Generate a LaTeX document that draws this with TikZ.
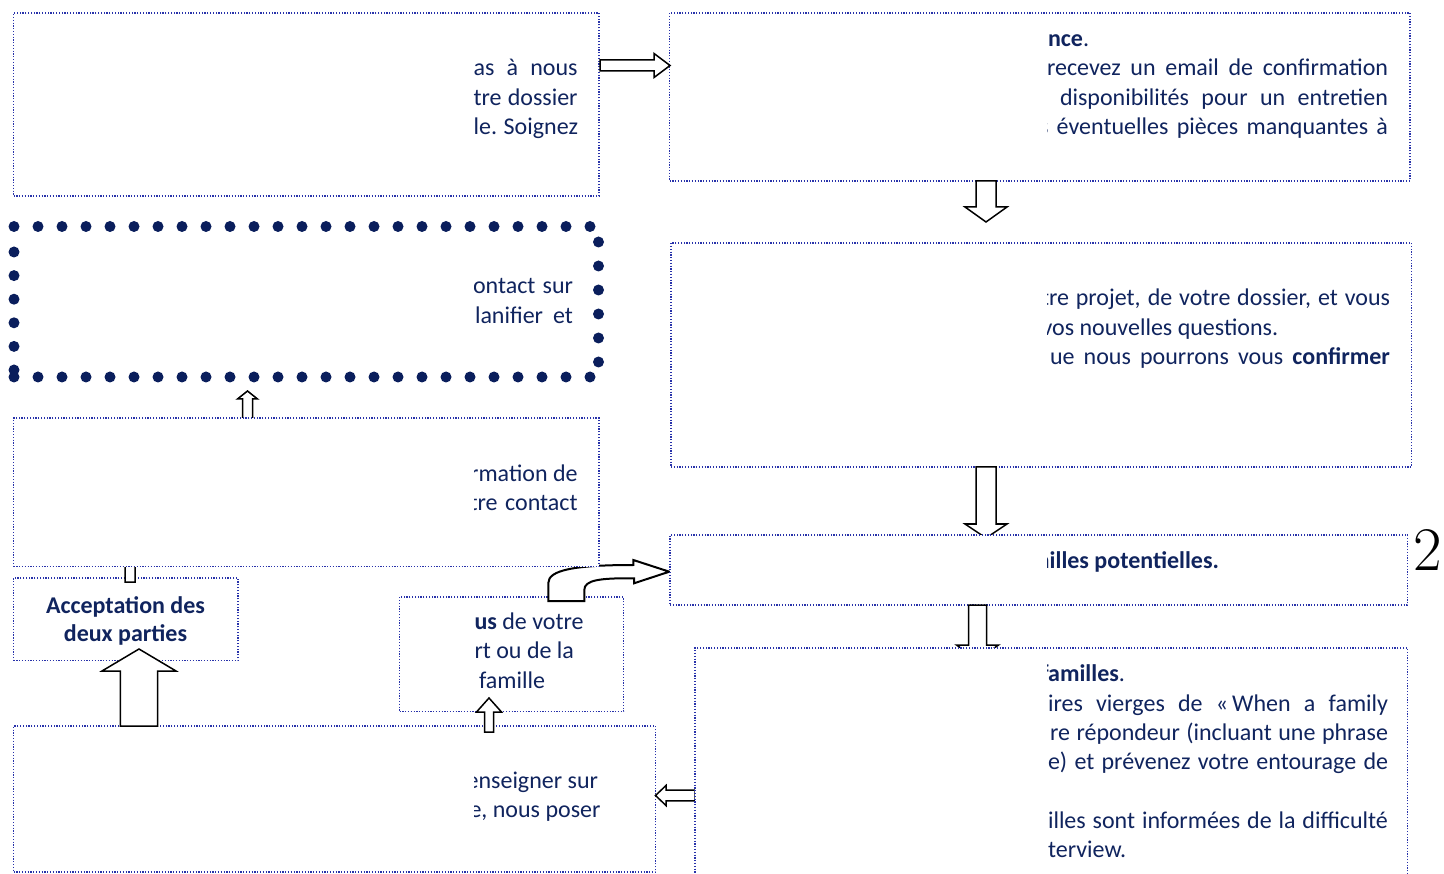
\documentclass[tikz,border=0pt]{standalone}
\usepackage{fontspec}
\newfontfamily\calib{Carlito}
\definecolor{navy}{RGB}{16,36,94}
\definecolor{dotnavy}{RGB}{10,30,92}
\definecolor{boxblue}{RGB}{40,50,170}
\tikzset{
 box/.style={draw=boxblue, line width=1.2pt, dash pattern=on 1.2pt off 1.6pt, fill=white, inner sep=0pt, outer sep=0pt, anchor=north west},
 txt/.style={inner sep=0pt, outer sep=0pt, text=navy, font=\calib\fontsize{24}{29.3}\selectfont},
 barrow/.style={draw=black, line width=1.5pt, fill=white, line join=miter},
 bentarrow/.style={draw=black, line width=2pt, fill=white, line join=miter},
 bigdot/.style={fill=dotnavy}
}
\newcommand{\blockarrow}[7]{%
 \draw[barrow, shift={(#1,#2)}, rotate=#3] (0,{-#5}) -- ({#4-#7},{-#5}) -- ({#4-#7},{-#6}) -- (#4,0) -- ({#4-#7},#6) -- ({#4-#7},#5) -- (0,#5) -- cycle;}
\begin{document}
\begin{tikzpicture}[x=1pt,y=-1pt]
\useasboundingbox (0,0) rectangle (1444,874);
\clip (0,0) rectangle (1444,874);

% ---- box G
\node[box, minimum width=642, minimum height=146] (G) at (13.5,726) {};
\begin{scope}
\clip (474,700) rectangle (660,874);
\node[txt, anchor=base east] (g1) at (598,788.3) {enseigner sur};
\node[txt, anchor=base east] (g2) at (600.5,817.6) {e, nous poser};
\end{scope}

% ---- box F
\node[box, minimum width=224, minimum height=114.5] (F) at (399.5,597) {};
\node[txt, anchor=base west] (f1) at (474.5,629.5) {{\bfseries us} de votre};
\node[txt, anchor=base west] (f2) at (474.5,658.8) {rt ou de la};
\node[txt, anchor=base west] (f3) at (479,688.1) {famille};

% ---- box E
\node[box, minimum width=224.5, minimum height=82.5] (E) at (13.5,578) {};
\node[txt, anchor=base, font=\calib\bfseries\fontsize{24}{29.3}\selectfont] (e1) at (125.5,613) {Acceptation des};
\node[txt, anchor=base, font=\calib\bfseries\fontsize{24}{29.3}\selectfont] (e2) at (125.5,641.5) {deux parties};

% ---- arrows, lower left
\blockarrow{695}{795.5}{180}{39.5}{5.3}{10}{10.5}
\blockarrow{489}{732}{90}{34}{4.5}{12.5}{14}
\blockarrow{139}{726}{90}{77}{18.7}{37}{22}
\blockarrow{130}{582}{90}{30}{5}{10}{8}
\blockarrow{247.5}{419}{90}{28}{5}{10}{8}

% ---- bent arrow F -> H
\draw[bentarrow] (548.3,601) -- (548.3,583) .. controls (548.3,570) and (575,565) .. (633.3,565) -- (633.3,560) -- (669.3,571.7) -- (634,583.3) -- (634,578.3) .. controls (600,578) and (584.3,580) .. (584.3,590) -- (584.3,601) -- cycle;

% ---- box D
\node[box, minimum width=585.5, minimum height=148.5] (D) at (13.5,418) {};
\begin{scope}
\clip (474,400) rectangle (660,570);
\node[txt, anchor=base east] (d1) at (577.6,481.7) {rmation de};
\node[txt, anchor=base east] (d2) at (577.6,511) {\makebox[108pt][s]{tre contact}};
\end{scope}

% ---- box C (big dots)
\node[inner sep=0pt, minimum width=584.5, minimum height=150, anchor=north west] (C) at (14,226.5) {};
\foreach \i in {0,...,24} {
 \fill[bigdot] ({14+24*\i},226.5) circle (5.5pt);
 \fill[bigdot] ({14+24*\i},377) circle (5.5pt);
}
\foreach \j in {0,...,5} {
 \fill[bigdot] (598.5,{242+24*\j}) circle (5.5pt);
 \fill[bigdot] (14,{252+23.6*\j}) circle (5.5pt);
}
\begin{scope}
\clip (474,230) rectangle (590,370);
\node[txt, anchor=base east] (c1) at (573,294) {\makebox[100pt][s]{ontact sur}};
\node[txt, anchor=base east] (c2) at (573,323.3) {\makebox[98pt][s]{lanifier et}};
\end{scope}

% ---- box A
\node[box, minimum width=585.5, minimum height=183] (A) at (13.5,13) {};
\node[txt, anchor=base east] (a1) at (577.6,76) {\makebox[104pt][s]{as à nous}};
\node[txt, anchor=base east] (a2) at (577.6,105.3) {\makebox[104pt][s]{tre dossier}};
\node[txt, anchor=base east] (a3) at (577.6,134.6) {\makebox[104pt][s]{le. Soignez}};

% ---- box B
\node[box, minimum width=740.5, minimum height=168] (B) at (669.5,13) {};
\begin{scope}
\clip (1047,0) rectangle (1444,200);
\node[txt, anchor=base west] (b1) at (1048,46.5) {{\bfseries nce}.};
\node[txt, anchor=base east] (b2) at (1388,75.8) {\makebox[341pt][s]{recevez un email de confirmation}};
\node[txt, anchor=base east] (b3) at (1388,105.1) {\makebox[328pt][s]{disponibilités pour un entretien}};
\node[txt, anchor=base east] (b4) at (1388,134.4) {\makebox[349pt][s]{s éventuelles pièces manquantes à}};
\end{scope}

% ---- box B2
\node[box, minimum width=740.5, minimum height=224] (B2) at (671,243) {};
\begin{scope}
\clip (1047,240) rectangle (1444,470);
\node[txt, anchor=base east] (p1) at (1390,306) {\makebox[349pt][s]{tre projet, de votre dossier, et vous}};
\node[txt, anchor=base west] (p2) at (1041.5,335.3) {vos nouvelles questions.};
\node[txt, anchor=base east] (p3) at (1390,364.6) {\makebox[340pt][s]{ue nous pourrons vous {\bfseries confirmer}}};
\end{scope}

% ---- arrows right column
\blockarrow{600}{65.5}{0}{70}{5.5}{12}{16}
\blockarrow{986}{181}{270}{41}{10}{21}{15}
\blockarrow{986}{467}{270}{71}{10}{21}{14}

% ---- box H
\node[box, minimum width=737.5, minimum height=70] (H) at (670,535) {};
\begin{scope}
\clip (1047,530) rectangle (1444,610);
\node[txt, anchor=base east] (h1) at (1219,568) {\bfseries milles potentielles.};
\end{scope}
\node[inner sep=0pt, anchor=base west, font=\fontsize{62}{62}\selectfont] (two) at (1413,570) {2};

\blockarrow{977.5}{605}{270}{55}{9}{21}{15}

% ---- box I
\node[box, minimum width=712.5, minimum height=250] (I) at (695,648) {};
\begin{scope}
\clip (1047,650) rectangle (1444,874);
\node[txt, anchor=base west] (i1) at (1041,681.7) {{\bfseries familles}.};
\node[txt, anchor=base east] (i2) at (1388,711) {\makebox[340pt][s]{ires vierges de «\hspace{4pt}When a family}};
\node[txt, anchor=base east] (i3) at (1388,740.3) {\makebox[338pt][s]{re répondeur (incluant une phrase}};
\node[txt, anchor=base east] (i4) at (1388,769.6) {\makebox[340pt][s]{e) et prévenez votre entourage de}};
\node[txt, anchor=base east] (i5) at (1388,828.2) {\makebox[340pt][s]{illes sont informées de la difficulté}};
\node[txt, anchor=base west] (i6) at (1048,857.5) {terview.};
\end{scope}
\end{tikzpicture}
\end{document}
